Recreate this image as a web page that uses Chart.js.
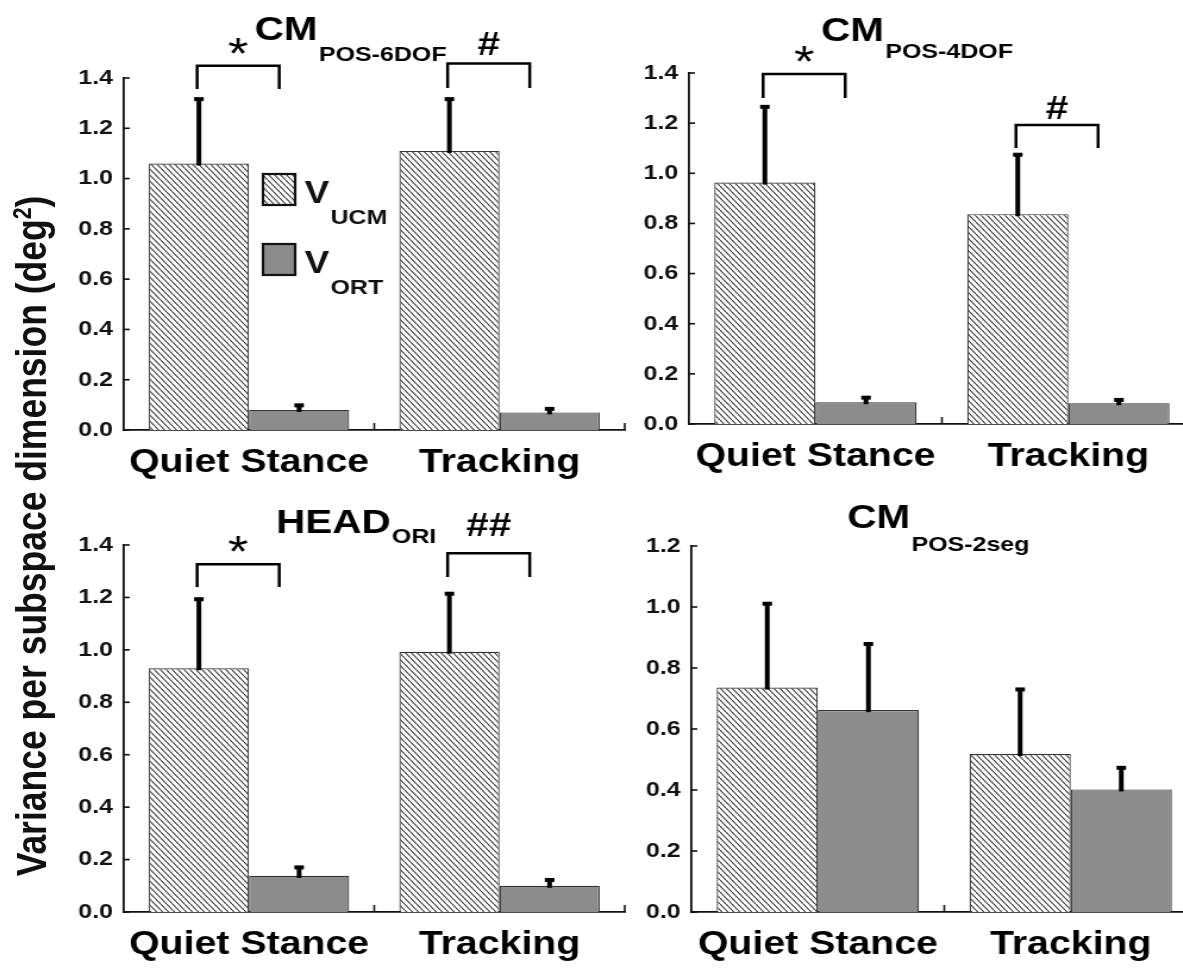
<!DOCTYPE html>
<html>
<head>
<meta charset="utf-8">
<script src="https://cdn.jsdelivr.net/npm/chart.js@4.4.0/dist/chart.umd.min.js"></script>
<style>
  body { margin: 0; background: #fff; overflow: hidden; }
  /* the original figure is stretched sideways, so the whole sheet is too */
  #fig { position: relative; width: 994px; height: 972px; transform: scaleX(1.19); transform-origin: 0 0; }
  #fig canvas { position: absolute; }
  #ytitle {
    position: absolute; left: -370.6px; top: 514px; width: 800px; height: 44px;
    line-height: 44px; text-align: center; white-space: nowrap; color: #111;
    font: bold 35.5px "Liberation Sans", Arial, sans-serif; transform: rotate(-90deg);
  }
  #ytitle sup { font-size: 0.6em; line-height: 0; }
</style>
</head>
<body>
<div id="fig">
  <div id="ytitle">Variance per subspace dimension (deg<sup>2</sup>)</div>
  <canvas id="c6dof" width="490" height="490" style="left:40px;top:0px"></canvas>
  <canvas id="c4dof" width="480" height="490" style="left:530px;top:0px"></canvas>
  <canvas id="chead" width="490" height="482" style="left:40px;top:490px"></canvas>
  <canvas id="c2seg" width="480" height="482" style="left:530px;top:490px"></canvas>
</div>
<script>
// categories and series
var categories = ["Quiet Stance", "Tracking"];
var seriesNames = ["V", "V"];
var seriesSubs = ["UCM", "ORT"];

// y tick labels
var yTicks14 = [0, 0.2, 0.4, 0.6, 0.8, 1.0, 1.2, 1.4];
var yTicks12 = [0, 0.2, 0.4, 0.6, 0.8, 1.0, 1.2];

// CM POS-6DOF
var ucm6dof = [1.06, 1.11];
var ucm6dofSd = [0.26, 0.21];
var ort6dof = [0.08, 0.07];
var ort6dofSd = [0.022, 0.018];

// CM POS-4DOF
var ucm4dof = [0.963, 0.837];
var ucm4dofSd = [0.306, 0.241];
var ort4dof = [0.087, 0.083];
var ort4dofSd = [0.022, 0.017];

// HEAD ORI
var ucmHead = [0.93, 0.993];
var ucmHeadSd = [0.267, 0.225];
var ortHead = [0.138, 0.10];
var ortHeadSd = [0.036, 0.026];

// CM POS-2seg
var ucm2seg = [0.736, 0.518];
var ucm2segSd = [0.278, 0.215];
var ort2seg = [0.662, 0.402];
var ort2segSd = [0.22, 0.074];

Chart.defaults.font.family = "'Liberation Sans', Arial, sans-serif";
Chart.defaults.font.weight = "bold";
Chart.defaults.color = "#111";
Chart.defaults.animation = false;

var FONT = "'Liberation Sans', Arial, sans-serif";
var GRAY = "#8c8c8c";
var EDGE = "#333";

// diagonal hatch like the printed figure
function hatchFor(canvas) {
    var tile = document.createElement("canvas");
    tile.width = 5;
    tile.height = 6;
    var g = tile.getContext("2d");
    g.fillStyle = "#fff";
    g.fillRect(0, 0, 5, 6);
    g.strokeStyle = "#2e2e2e";
    g.lineWidth = 1.05;
    [-5, 0, 5].forEach(function (dx) {
        g.beginPath();
        g.moveTo(dx, 0);
        g.lineTo(dx + 5, 6);
        g.stroke();
    });
    return canvas.getContext("2d").createPattern(tile, "repeat");
}

// titles, error bars, brackets, inward ticks, legend
var decor = {
    id: "decor",
    afterDraw: function (chart, args, o) {
        var ctx = chart.ctx;
        var a = chart.chartArea;
        var xs = chart.scales.x;
        var ys = chart.scales.y;
        ctx.save();

        // inward ticks
        ctx.strokeStyle = "#111";
        ctx.lineWidth = 1.6;
        ys.ticks.forEach(function (t, i) {
            var y = ys.getPixelForTick(i);
            ctx.beginPath();
            ctx.moveTo(a.left, y);
            ctx.lineTo(a.left + 5, y);
            ctx.stroke();
        });
        [0.5, 1.5].forEach(function (v) {
            var x = xs.getPixelForValue(v);
            ctx.beginPath();
            ctx.moveTo(x, a.bottom);
            ctx.lineTo(x, a.bottom - 7);
            ctx.stroke();
        });

        // error bars (upper side only)
        ctx.fillStyle = "#000";
        ctx.strokeStyle = "#000";
        o.errors.forEach(function (sd, di) {
            var meta = chart.getDatasetMeta(di);
            var vals = chart.data.datasets[di].data;
            meta.data.forEach(function (bar, j) {
                var y0 = ys.getPixelForValue(vals[j]);
                var y1 = ys.getPixelForValue(vals[j] + sd[j]);
                ctx.lineWidth = 4;
                ctx.beginPath();
                ctx.moveTo(bar.x, y0 + 2);
                ctx.lineTo(bar.x, y1);
                ctx.stroke();
                ctx.fillRect(bar.x - 4, y1 - 1, 8, 4);
            });
        });

        // significance brackets
        var hatched = chart.getDatasetMeta(0);
        ctx.lineWidth = 2.5;
        ctx.textAlign = "center";
        ctx.textBaseline = "alphabetic";
        (o.brackets || []).forEach(function (b) {
            var x0 = hatched.data[b.cat].x - 1.5;
            var x1 = x0 + 69;
            var yt = ys.getPixelForValue(b.top);
            var yl = ys.getPixelForValue(b.leg);
            ctx.beginPath();
            ctx.moveTo(x0, yl);
            ctx.lineTo(x0, yt);
            ctx.lineTo(x1, yt);
            ctx.lineTo(x1, yl);
            ctx.stroke();
            var star = b.mark === "*";
            ctx.font = (star ? "44px " : "bold 34px ") + FONT;
            ctx.fillText(b.mark, (x0 + x1) / 2, yt - b.lift);
        });

        // panel title with subscript
        ctx.textAlign = "left";
        ctx.font = "bold 34px " + FONT;
        ctx.fillText(o.title, o.titleX, o.titleY);
        var w = ctx.measureText(o.title).width;
        ctx.font = "bold 21px " + FONT;
        ctx.fillText(o.sub, o.titleX + w + 1, o.subY);

        // legend
        if (o.legend) {
            chart.data.datasets.forEach(function (ds, i) {
                var bx = o.legend.x;
                var by = o.legend.y + i * 70;
                ctx.fillStyle = ds.backgroundColor;
                ctx.fillRect(bx, by, 27, 31);
                ctx.strokeStyle = "#111";
                ctx.lineWidth = 2.2;
                ctx.strokeRect(bx, by, 27, 31);
                ctx.fillStyle = "#111";
                ctx.font = "bold 31px " + FONT;
                ctx.fillText(seriesNames[i], bx + 35, by + 29);
                var vw = ctx.measureText(seriesNames[i]).width;
                ctx.font = "bold 21px " + FONT;
                ctx.fillText(seriesSubs[i], bx + 36 + vw, by + 50);
            });
        }
        ctx.restore();
    },
};

function makePanel(id, ucm, ort, yTicks, box, deco) {
    var canvas = document.getElementById(id);
    var hatch = hatchFor(canvas);
    return new Chart(canvas, {
        type: "bar",
        data: {
            labels: categories,
            datasets: [
                {
                    label: seriesNames[0] + seriesSubs[0],
                    data: ucm,
                    backgroundColor: hatch,
                    borderColor: EDGE,
                    borderWidth: 1.2,
                    categoryPercentage: 0.8,
                    barPercentage: 1,
                },
                {
                    label: seriesNames[1] + seriesSubs[1],
                    data: ort,
                    backgroundColor: GRAY,
                    borderColor: EDGE,
                    borderWidth: 1.2,
                    categoryPercentage: 0.8,
                    barPercentage: 1,
                },
            ],
        },
        options: {
            responsive: false,
            events: [],
            layout: { padding: { top: box.top, right: box.right, left: 0, bottom: 0 } },
            scales: {
                x: {
                    offset: true,
                    grid: { display: false, drawTicks: false },
                    border: { display: true, color: "#111", width: 1.8 },
                    ticks: { color: "#000", padding: box.labelPad, font: { size: 33, weight: "bold" } },
                    afterFit: function (s) { s.height = box.xHeight; },
                },
                y: {
                    min: 0,
                    max: yTicks[yTicks.length - 1],
                    grid: { display: false, drawTicks: false },
                    border: { display: true, color: "#111", width: 1.8 },
                    afterBuildTicks: function (s) {
                        s.ticks = yTicks.map(function (v) { return { value: v }; });
                    },
                    ticks: {
                        padding: 9,
                        font: { size: 21, weight: "bold" },
                        callback: function (v) { return Number(v).toFixed(1); },
                    },
                    afterFit: function (s) { s.width = box.yWidth; },
                },
            },
            plugins: { legend: { display: false }, tooltip: { enabled: false }, decor: deco },
        },
        plugins: [decor],
    });
}

makePanel("c6dof", ucm6dof, ort6dof, yTicks14,
    { top: 78, right: 5, yWidth: 64, xHeight: 60, labelPad: 13 },
    {
        title: "CM", sub: "POS-6DOF", titleX: 174, titleY: 40, subY: 61,
        errors: [ucm6dofSd, ort6dofSd],
        brackets: [
            { cat: 0, top: 1.449, leg: 1.356, mark: "*", lift: -3 },
            { cat: 1, top: 1.458, leg: 1.36, mark: "#", lift: 8 },
        ],
        legend: { x: 181, y: 174 },
    });

makePanel("c4dof", ucm4dof, ort4dof, yTicks14,
    { top: 73, right: 6, yWidth: 49, xHeight: 66, labelPad: 13 },
    {
        title: "CM", sub: "POS-4DOF", titleX: 160, titleY: 41, subY: 58,
        errors: [ucm4dofSd, ort4dofSd],
        brackets: [
            { cat: 0, top: 1.396, leg: 1.30, mark: "*", lift: -3 },
            { cat: 1, top: 1.193, leg: 1.101, mark: "#", lift: 6 },
        ],
    });

makePanel("chead", ucmHead, ortHead, yTicks14,
    { top: 55, right: 5, yWidth: 64, xHeight: 60, labelPad: 13 },
    {
        title: "HEAD", sub: "ORI", titleX: 192, titleY: 43, subY: 53,
        errors: [ucmHeadSd, ortHeadSd],
        brackets: [
            { cat: 0, top: 1.327, leg: 1.24, mark: "*", lift: -3 },
            { cat: 1, top: 1.369, leg: 1.278, mark: "##", lift: 17 },
        ],
    });

makePanel("c2seg", ucm2seg, ort2seg, yTicks12,
    { top: 56, right: 4, yWidth: 51, xHeight: 60, labelPad: 13 },
    {
        title: "CM", sub: "POS-2seg", titleX: 182, titleY: 38, subY: 61,
        errors: [ucm2segSd, ort2segSd],
    });
</script>
</body>
</html>
